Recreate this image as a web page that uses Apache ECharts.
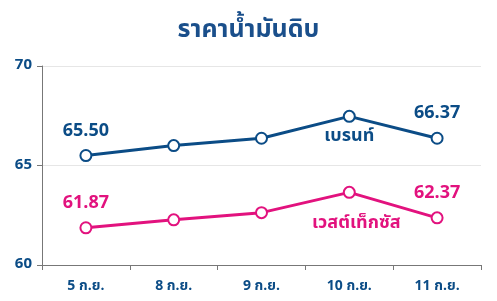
<!DOCTYPE html>
<html><head><meta charset="utf-8">
<script src="https://cdn.jsdelivr.net/npm/echarts@6/dist/echarts.min.js"></script>
<style>html,body{margin:0;padding:0;background:#fff}#c{width:497px;height:301px}</style>
</head><body><div id="c"></div>
<script>
const categories = ['5 ก.ย.', '8 ก.ย.', '9 ก.ย.', '10 ก.ย.', '11 ก.ย.'];
const brent = [65.50, 66.00, 66.37, 67.47, 66.37];
const wti = [61.87, 62.27, 62.63, 63.65, 62.37];
const yTicks = [60, 65, 70];
const brentName = 'เบรนท์';
const wtiName = 'เวสต์เท็กซัส';

const BLUE = '#0b4c86', PINK = '#e2127e';
const FONT = '"Noto Sans Thai", Tahoma, "DejaVu Sans", sans-serif';

function build(vals, color, name, nameIdx, nameDist, nameOff) {
  return vals.map((v, i) => {
    const d = { value: v };
    if (i === 0 || i === vals.length - 1) {
      d.label = { show: true, position: 'top', distance: 8, formatter: (p) => p.value.toFixed(2),
        color: color, fontSize: 18, fontWeight: 'bold', fontFamily: FONT };
    } else if (i === nameIdx) {
      d.label = { show: true, position: 'bottom', distance: nameDist, offset: nameOff, formatter: name,
        color: color, fontSize: 18, fontWeight: 'bold', fontFamily: FONT };
    }
    return d;
  });
}

const chart = echarts.init(document.getElementById('c'));
chart.setOption({
  animation: false,
  title: { text: 'ราคาน้ำมันดิบ', left: 'center', top: 14,
    textStyle: { color: '#1a4f8b', fontSize: 25, fontWeight: 'bold', fontFamily: FONT } },
  grid: { left: 42, right: 16, top: 66, bottom: 36 },
  xAxis: { type: 'category', data: categories, boundaryGap: true,
    axisLine: { lineStyle: { color: '#777' } },
    axisTick: { show: true, length: 5, lineStyle: { color: '#777' } },
    axisLabel: { color: BLUE, fontSize: 14, fontWeight: 'bold', margin: 15, fontFamily: FONT } },
  yAxis: { type: 'value', min: yTicks[0], max: yTicks[yTicks.length - 1], interval: 5,
    axisLine: { show: true, lineStyle: { color: '#777' } },
    axisTick: { show: true, length: 5, lineStyle: { color: '#777' } },
    splitLine: { lineStyle: { color: '#e6e6e6' } },
    axisLabel: { color: BLUE, fontSize: 15, fontWeight: 'bold', margin: 10, fontFamily: FONT } },
  series: [
    { type: 'line', data: build(brent, BLUE, brentName, 3, 6, [0, 0]), symbol: 'circle', symbolSize: 11,
      itemStyle: { color: '#fff', borderColor: BLUE, borderWidth: 2 },
      lineStyle: { color: BLUE, width: 3 } },
    { type: 'line', data: build(wti, PINK, wtiName, 3, 16, [7, 0]), symbol: 'circle', symbolSize: 11,
      itemStyle: { color: '#fff', borderColor: PINK, borderWidth: 2 },
      lineStyle: { color: PINK, width: 3 } }
  ]
});
</script></body></html>
